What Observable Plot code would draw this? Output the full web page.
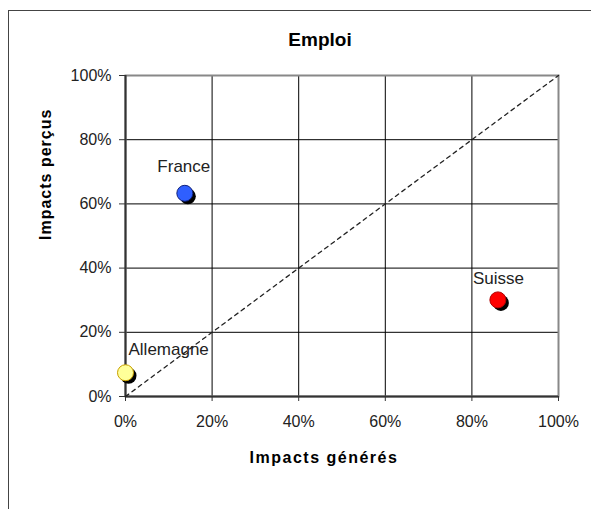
<!DOCTYPE html>
<html>
<head>
<meta charset="utf-8">
<script src="https://cdn.jsdelivr.net/npm/d3@7"></script>
<script src="https://cdn.jsdelivr.net/npm/@observablehq/plot@0.6"></script>
<style>
  html, body { margin: 0; padding: 0; background: #fff; overflow: hidden; }
  #wrap { position: relative; width: 591px; height: 509px; overflow: hidden; font-family: "Liberation Sans", Arial, sans-serif; }
  #border { position: absolute; left: 8px; top: 10px; width: 700px; height: 600px; border: 1px solid #444; box-sizing: border-box; }
  #title { position: absolute; left: 8px; width: 624px; top: 28px; text-align: center; font-weight: bold; font-size: 19px; color: #000; line-height: 24px; }
  #chart { position: absolute; left: 0; top: 60px; }
</style>
</head>
<body>
<div id="wrap">
  <div id="border"></div>
  <div id="title">Emploi</div>
  <div id="chart"></div>
</div>
<script>
const countries = ["France", "Allemagne", "Suisse"];
const generated = [0.137, 0.0, 0.86];   // Impacts générés (x)
const perceived = [0.633, 0.074, 0.301]; // Impacts perçus (y)
const colors = ["#2f5fff", "#ffff99", "#ff0000"];
const strokes = ["#10207a", "#c8a000", "#b00000"];
const tickValues = [0, 0.2, 0.4, 0.6, 0.8, 1];
const xTitle = "Impacts générés";
const yTitle = "Impacts perçus";

const data = countries.map((c, i) => ({name: c, x: generated[i], y: perceived[i], fill: colors[i], stroke: strokes[i]}));
const gridVals = tickValues.filter(v => v > 0 && v < 1);
const fmt = d3.format(".0%");
const labelStyle = {fontSize: 17, fill: "#222", fontFamily: "Liberation Sans, Arial, sans-serif"};

const chart = Plot.plot({
  width: 591,
  height: 449,
  marginLeft: 125,
  marginRight: 33,
  marginTop: 15,
  marginBottom: 113,
  style: {fontFamily: "Liberation Sans, Arial, sans-serif", fontSize: "16px", color: "#222", background: "transparent", overflow: "visible"},
  x: {domain: [0, 1]},
  y: {domain: [0, 1]},
  marks: [
    Plot.gridX(gridVals, {stroke: "#000", strokeOpacity: 1, strokeWidth: 1}),
    Plot.gridY(gridVals, {stroke: "#000", strokeOpacity: 1, strokeWidth: 1}),
    Plot.frame({stroke: "#888", strokeWidth: 2}),
    Plot.ruleX([0], {stroke: "#333", strokeWidth: 2}),
    Plot.ruleY([0], {stroke: "#333", strokeWidth: 2}),
    Plot.axisY(tickValues, {tickFormat: fmt, tickSize: 6, tickPadding: 8, label: null, fontSize: 16, stroke: "#333"}),
    Plot.axisX(tickValues, {tickFormat: fmt, tickSize: 5, tickPadding: 14, label: null, fontSize: 16, stroke: "#333"}),
    Plot.line([[0, 0], [1, 1]], {x: d => d[0], y: d => d[1], stroke: "#222", strokeWidth: 1.3, strokeDasharray: "4,4"}),
    Plot.dot(data, {x: "x", y: "y", r: 8, fill: "#000", dx: 3, dy: 3}),
    Plot.dot(data, {x: "x", y: "y", r: 8, fill: d => d.fill, stroke: d => d.stroke, strokeWidth: 1}),
    Plot.text(data.filter(d => d.name === "France"), {x: "x", y: "y", text: "name", textAnchor: "middle", dx: -1, dy: -27, ...labelStyle}),
    Plot.text(data.filter(d => d.name === "Allemagne"), {x: "x", y: "y", text: "name", textAnchor: "start", dx: 3, dy: -23, ...labelStyle}),
    Plot.text(data.filter(d => d.name === "Suisse"), {x: "x", y: "y", text: "name", textAnchor: "start", dx: -25, dy: -21, ...labelStyle}),
    Plot.text([xTitle], {frameAnchor: "bottom", text: d => d, dx: -18, dy: 66, fontSize: 16, fontWeight: "bold", fill: "#000"}),
    Plot.text([yTitle], {frameAnchor: "left", text: d => d, rotate: -90, dx: -80, dy: 4, fontSize: 16, fontWeight: "bold", fill: "#000"})
  ]
});
chart.querySelectorAll("text").forEach(t => {
  if (t.textContent === xTitle) t.setAttribute("letter-spacing", "1.5px");
  if (t.textContent === yTitle) t.setAttribute("letter-spacing", "1px");
});
document.getElementById("chart").appendChild(chart);
</script>
</body>
</html>
